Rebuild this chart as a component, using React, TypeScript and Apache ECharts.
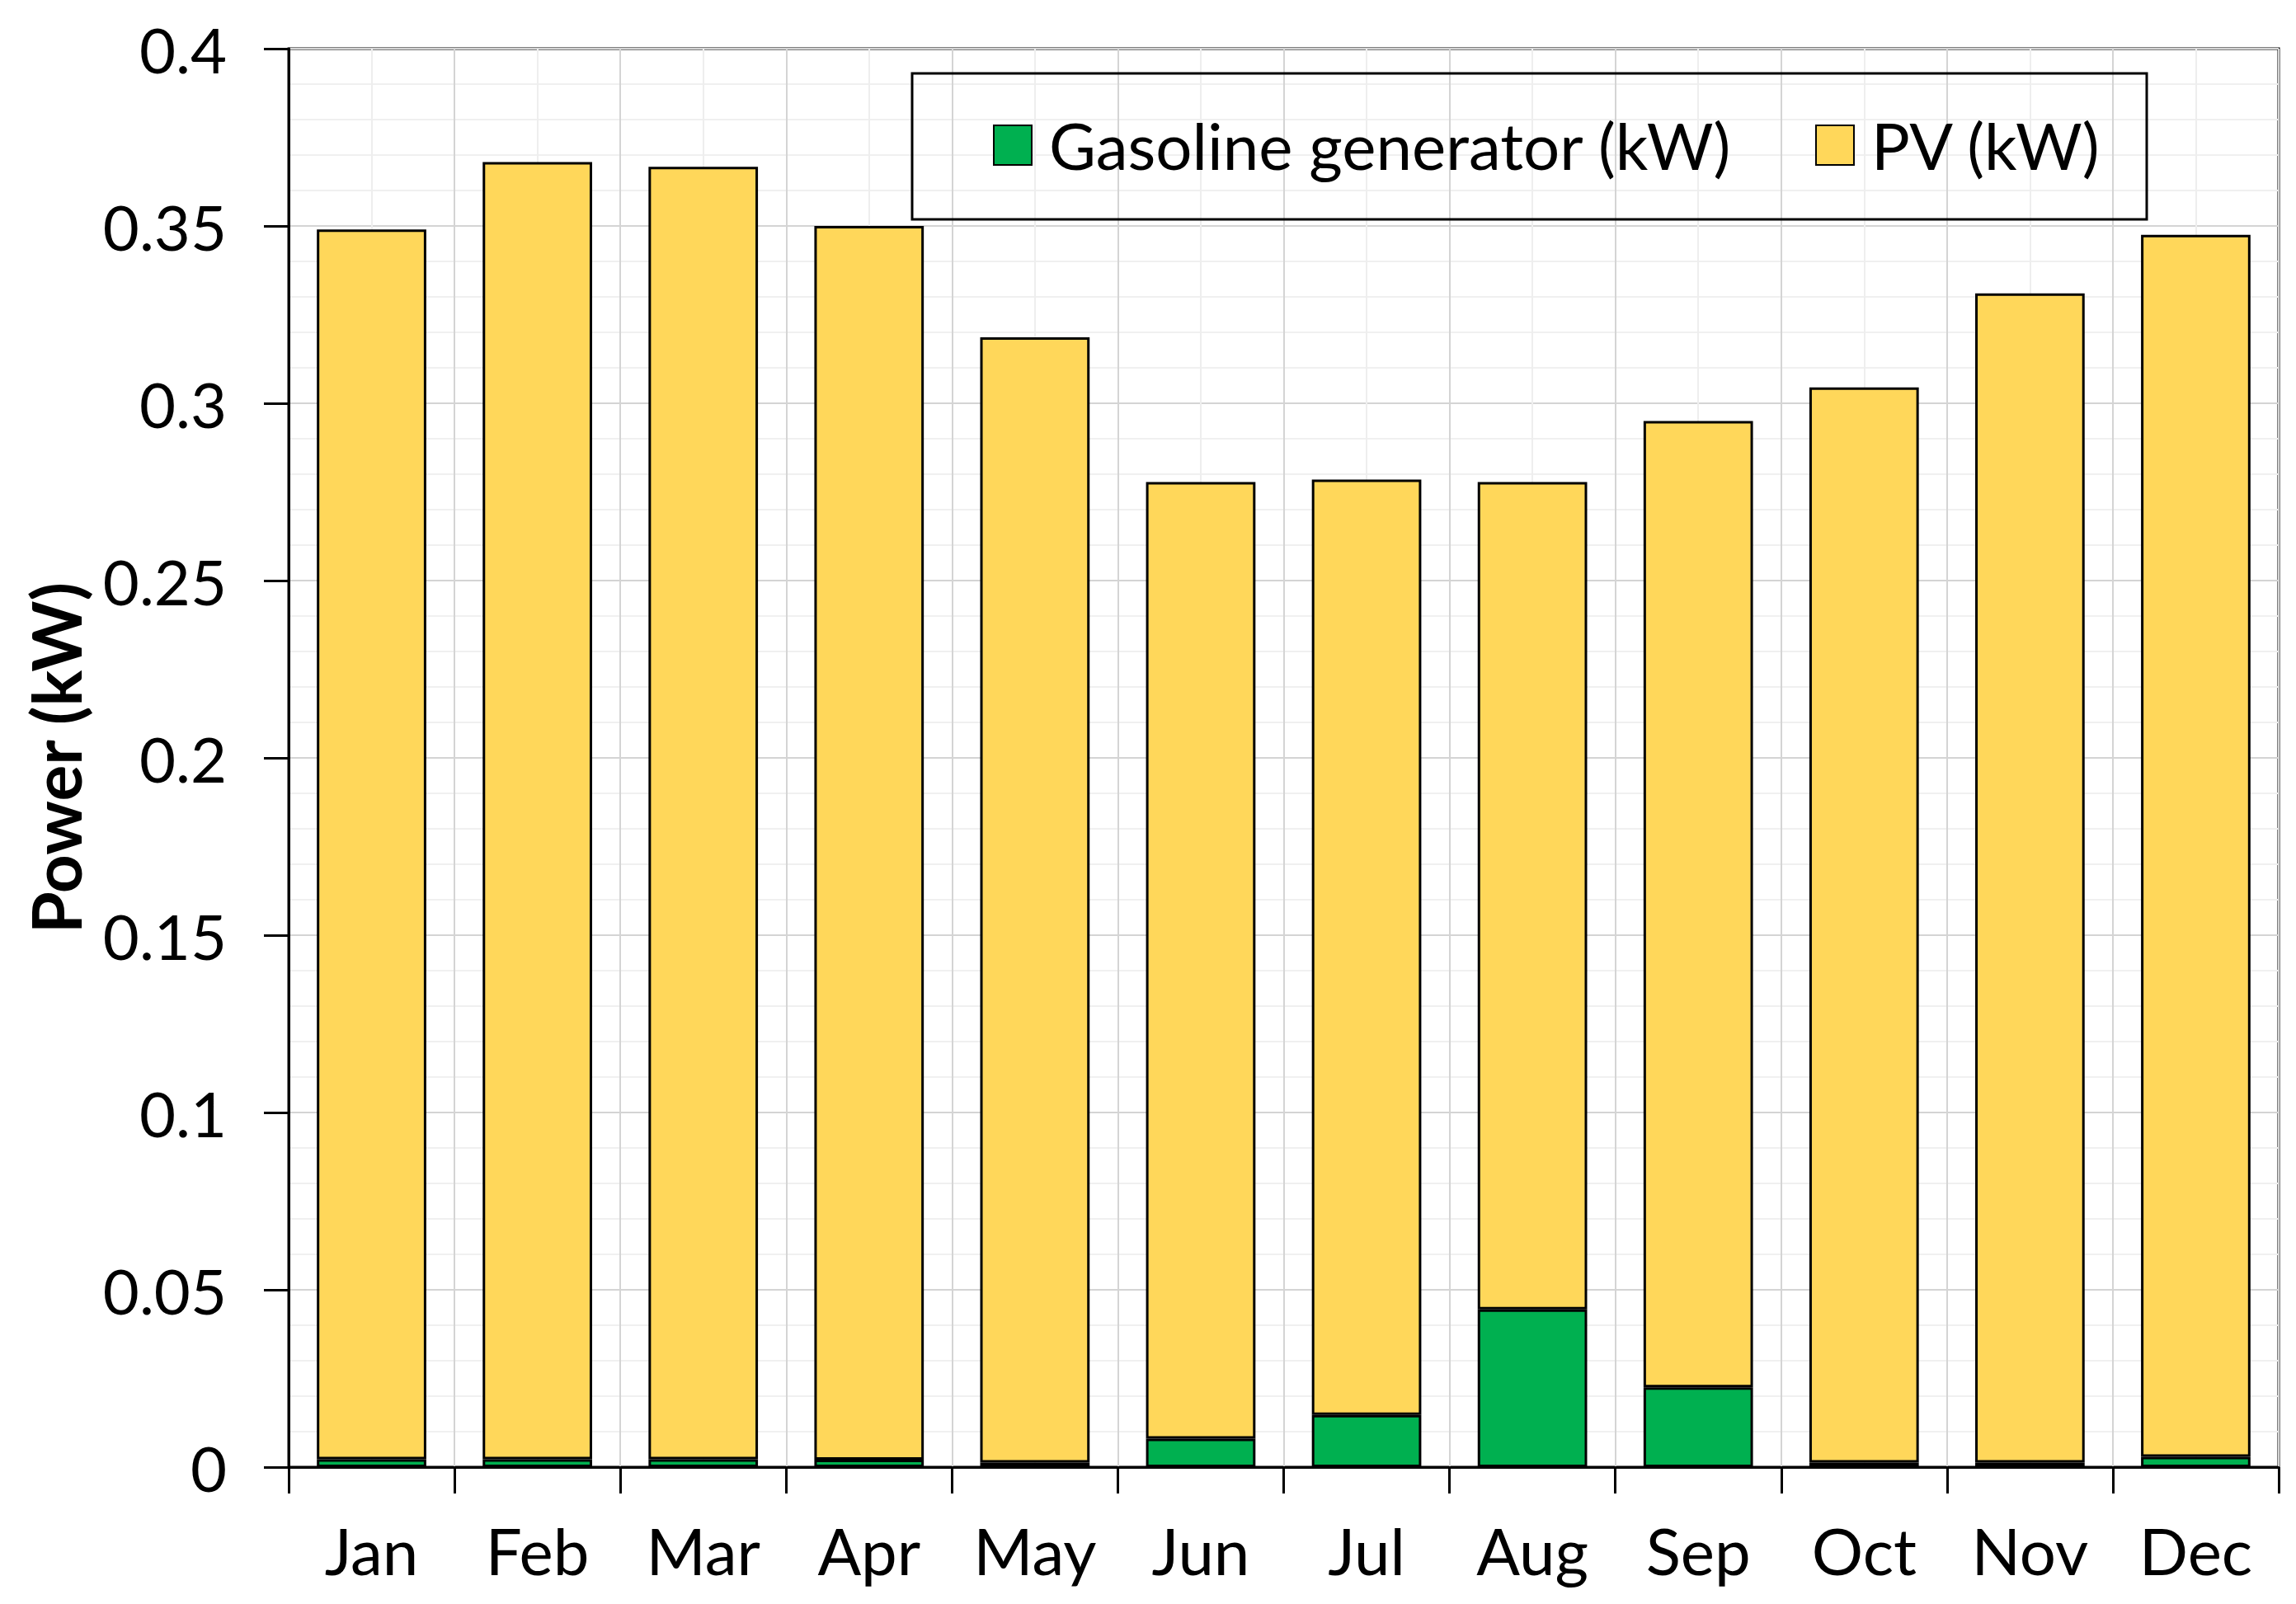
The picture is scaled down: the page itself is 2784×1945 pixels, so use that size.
import React, { useEffect, useRef } from "react";
import * as echarts from "echarts";

const months = ["Jan", "Feb", "Mar", "Apr", "May", "Jun", "Jul", "Aug", "Sep", "Oct", "Nov", "Dec"];
const gasoline = [0.0022, 0.0022, 0.0022, 0.0021, 0.0013, 0.008, 0.0147, 0.0445, 0.0225, 0.0013, 0.0013, 0.0029];
const pv = [0.3468, 0.3658, 0.3645, 0.3479, 0.3173, 0.2698, 0.2638, 0.2333, 0.2725, 0.3032, 0.3297, 0.3446];
const seriesNames = ["Gasoline generator (kW)", "PV (kW)"];
const yTicks = { min: 0, max: 0.4, interval: 0.05 };

const FONT = "Lato, 'Noto Sans', sans-serif";

export default function App() {
  const ref = useRef<HTMLDivElement>(null);
  useEffect(() => {
    document.body.style.margin = "0";
    const chart = echarts.init(ref.current!, undefined, { renderer: "svg" });
    chart.setOption({
      animation: false,
      backgroundColor: "#ffffff",
      textStyle: { fontFamily: FONT },
      grid: {
        left: 350,
        right: 21,
        top: 59,
        bottom: 166,
        show: true,
        borderColor: "#000",
        borderWidth: 3,
        backgroundColor: "transparent",
      },
      graphic: [
        {
          type: "rect",
          shape: { x: 1106, y: 89, width: 1497, height: 177 },
          style: { fill: "none", stroke: "#000", lineWidth: 3 },
          z: 10,
        },
      ],
      legend: {
        left: 1204,
        top: 137,
        padding: 0,
        itemWidth: 46,
        itemHeight: 48,
        itemGap: 101,
        icon: "rect",
        textStyle: { fontSize: 78, lineHeight: 48, color: "#000", fontFamily: FONT, padding: [0, 0, 0, 16] },
        data: seriesNames,
      },
      xAxis: [
        {
          type: "category",
          data: months,
          axisLine: { lineStyle: { color: "#000", width: 3 } },
          axisTick: { show: true, interval: 0, length: 32, lineStyle: { color: "#000", width: 3 } },
          axisLabel: { interval: 0, fontSize: 78, color: "#000", margin: 62, fontFamily: FONT },
          splitLine: { show: false },
        },
        {
          type: "value",
          min: 0,
          max: 12,
          interval: 0.5,
          position: "bottom",
          axisLine: { show: false },
          axisTick: { show: false },
          axisLabel: { show: false },
          splitLine: { show: true, lineStyle: { color: ["#d4d4d4", "#eeeeee"], width: 2 } },
        },
      ],
      yAxis: {
        type: "value",
        min: yTicks.min,
        max: yTicks.max,
        interval: yTicks.interval,
        name: "Power (kW)",
        nameLocation: "middle",
        nameGap: 242,
        nameTextStyle: { fontSize: 82, fontWeight: "bold", color: "#000", fontFamily: FONT },
        axisLine: { show: true, lineStyle: { color: "#000", width: 3 } },
        axisTick: { show: true, length: 30, lineStyle: { color: "#000", width: 3 } },
        axisLabel: { fontSize: 76, color: "#000", margin: 75, fontFamily: FONT },
        splitLine: { show: true, lineStyle: { color: "#d4d4d4", width: 2 } },
        minorTick: { show: false, splitNumber: 5 },
        minorSplitLine: { show: true, lineStyle: { color: "#f0f0f0", width: 2 } },
      },
      series: [
        {
          name: seriesNames[0],
          type: "bar",
          stack: "total",
          data: gasoline,
          barWidth: "66%",
          itemStyle: { color: "#00B050", borderColor: "#000", borderWidth: 3 },
        },
        {
          name: seriesNames[1],
          type: "bar",
          stack: "total",
          data: pv,
          barWidth: "66%",
          itemStyle: { color: "#FFD75A", borderColor: "#000", borderWidth: 3 },
        },
      ],
    });
    return () => chart.dispose();
  }, []);
  return <div ref={ref} style={{ width: 2784, height: 1945 }} />;
}
